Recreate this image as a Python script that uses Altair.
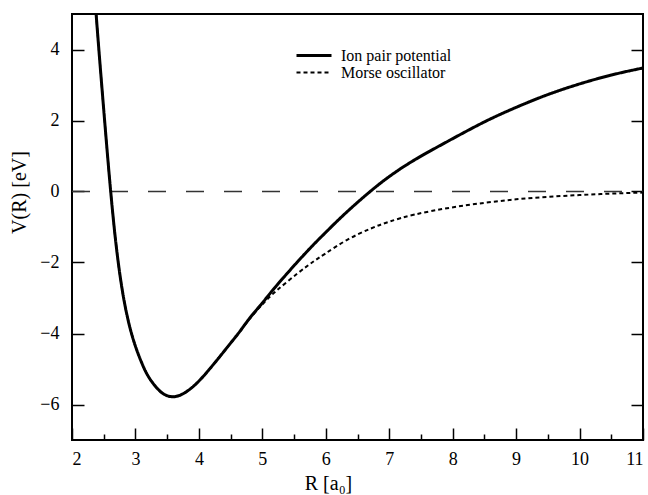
import altair as alt
import pandas as pd

# Ion pair potential V(R) in eV versus internuclear distance R in bohr
ion_r = [2.38, 2.43, 2.52, 2.61, 2.70, 2.80, 2.90, 3.00, 3.10, 3.20, 3.33, 3.45, 3.57,
         3.70, 3.85, 4.00, 4.15, 4.33, 4.50, 4.65, 4.80, 5.00, 5.22, 5.56, 5.80,
         6.00, 6.33, 6.70, 7.00, 7.40, 7.95, 8.50, 9.00, 9.50, 10.00, 10.50, 11.00]
ion_v = [5.00, 3.85, 1.87, 0.00, -1.58, -2.86, -3.74, -4.36, -4.83, -5.20, -5.52, -5.71, -5.78,
         -5.74, -5.58, -5.34, -5.04, -4.65, -4.27, -3.93, -3.57, -3.14, -2.66, -1.97, -1.51,
         -1.15, -0.58, 0.00, 0.42, 0.89, 1.44, 1.96, 2.37, 2.73, 3.03, 3.28, 3.48]

# Morse oscillator fitted to the same well
morse_r = [2.38, 2.43, 2.52, 2.61, 2.70, 2.80, 2.90, 3.00, 3.10, 3.20, 3.33, 3.45, 3.57,
           3.70, 3.85, 4.00, 4.15, 4.33, 4.50, 4.65, 4.80, 5.00, 5.22, 5.56, 5.80,
           6.00, 6.33, 6.70, 7.00, 7.40, 7.95, 8.50, 9.00, 9.50, 10.00, 10.50, 11.00]
morse_v = [5.00, 3.85, 1.87, 0.00, -1.58, -2.86, -3.74, -4.36, -4.83, -5.20, -5.52, -5.71, -5.78,
           -5.74, -5.58, -5.34, -5.04, -4.65, -4.27, -3.94, -3.59, -3.18, -2.80, -2.30, -1.98,
           -1.74, -1.37, -1.05, -0.85, -0.65, -0.46, -0.32, -0.22, -0.15, -0.10, -0.06, -0.03]

# Dissociation limit reference line
zero_r = [2.0, 11.0]
zero_v = [0.0, 0.0]

series_names = ["Ion pair potential", "Morse oscillator"]

x_major = [2, 3, 4, 5, 6, 7, 8, 9, 10, 11]
x_minor = [2.5, 3.5, 4.5, 5.5, 6.5, 7.5, 8.5, 9.5, 10.5]
y_major = [-6, -4, -2, 0, 2, 4]

curves = pd.DataFrame({
    "R": ion_r + morse_r,
    "V": ion_v + morse_v,
    "series": [series_names[0]] * len(ion_r) + [series_names[1]] * len(morse_r),
})
zero = pd.DataFrame({"R": zero_r, "V": zero_v})

FONT = "Liberation Serif"
xscale = alt.Scale(domain=[2, 11], nice=False, zero=False)
yscale = alt.Scale(domain=[-7, 5], nice=False, zero=False)

legend = alt.Legend(
    title=None, orient="none", legendX=223, legendY=33,
    symbolType="stroke", symbolSize=1225, symbolStrokeColor="black",
    labelFont=FONT, labelFontSize=16, labelColor="black",
    labelOffset=8, rowPadding=0, padding=0, clipHeight=17,
)

lines = alt.Chart(curves).mark_line(clip=True, interpolate="natural").encode(
    x=alt.X("R:Q", scale=xscale,
            axis=alt.Axis(orient="bottom", values=x_major, offset=-12, tickSize=12,
                          domain=False, grid=False, labelPadding=10, format="d",
                          title="R [a₀]", titlePadding=5, titleX=256)),
    y=alt.Y("V:Q", scale=yscale,
            axis=alt.Axis(orient="left", values=y_major, offset=-12, tickSize=12,
                          domain=False, grid=False, labelPadding=13, format="d",
                          title="V(R) [eV]", titlePadding=10, titleY=178)),
    color=alt.Color("series:N", scale=alt.Scale(domain=series_names, range=["black", "black"]),
                    legend=legend),
    strokeDash=alt.StrokeDash("series:N",
                              scale=alt.Scale(domain=series_names, range=[[1, 0], [4, 3]]),
                              legend=legend),
    strokeWidth=alt.StrokeWidth("series:N",
                                scale=alt.Scale(domain=series_names, range=[3, 2]),
                                legend=legend),
)

zero_line = alt.Chart(zero).mark_line(color="#333333", strokeWidth=1.6, strokeDash=[18, 20]).encode(
    x=alt.X("R:Q", scale=xscale,
            axis=alt.Axis(orient="bottom", values=x_minor, offset=-6, tickSize=6,
                          labels=False, domain=False, grid=False, title=None)),
    y=alt.Y("V:Q", scale=yscale,
            axis=alt.Axis(orient="right", values=y_major, offset=-12, tickSize=12,
                          labels=False, domain=False, grid=False, title=None)),
)

chart = (
    alt.layer(zero_line, lines)
    .resolve_axis(x="independent", y="independent")
    .properties(width=571, height=426, autosize="none",
                padding={"left": 72, "top": 14, "right": 5, "bottom": 55},
                background="white")
    .configure_view(stroke="black", strokeWidth=2)
    .configure_axis(labelFont=FONT, titleFont=FONT, labelFontSize=18, titleFontSize=20,
                    titleFontWeight="normal", labelColor="black", titleColor="black",
                    tickColor="black", tickWidth=1.5)
)

chart.save("out.html", embed_options={"renderer": "svg", "actions": False})
